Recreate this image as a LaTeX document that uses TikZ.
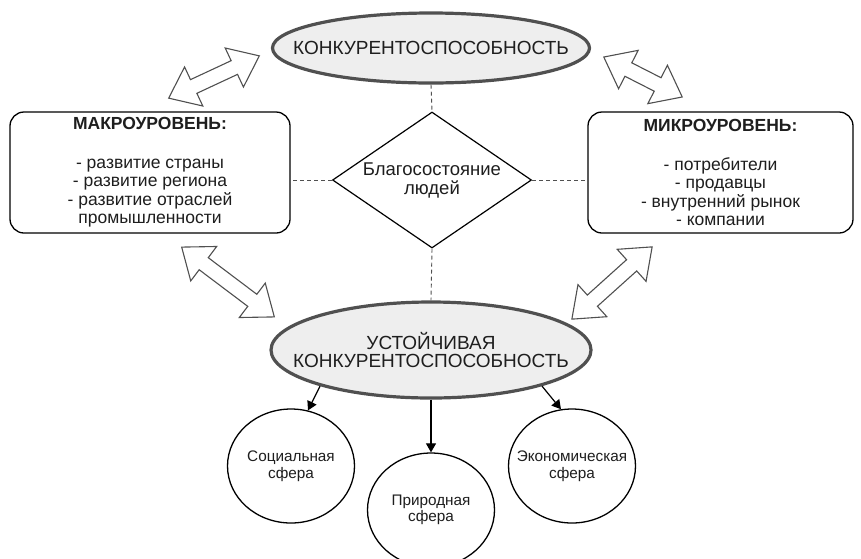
\documentclass[tikz,border=0pt]{standalone}
\usepackage{fontspec}
\setmainfont{Liberation Sans}
\usetikzlibrary{shapes.geometric,shapes.arrows,arrows.meta,positioning}
\definecolor{rimgray}{HTML}{505050}
\definecolor{fillgray}{HTML}{EEEEEE}
\definecolor{inkgray}{HTML}{1E1E1E}
\tikzset{
  oval/.style={ellipse, draw=rimgray, line width=3.2pt, fill=fillgray, text=inkgray, inner xsep=-30pt, inner ysep=0pt, align=center, font=\fontsize{19}{18.5}\selectfont},
  level/.style={draw, rounded corners=14pt, line width=1.3pt, minimum height=121pt, inner sep=0pt, text=inkgray, align=center, font=\fontsize{17.5}{18.5}\selectfont},
  rhomb/.style={diamond, draw, line width=1.2pt, aspect=1.46, minimum width=199pt, minimum height=136pt, inner sep=0pt, text=inkgray, align=center, font=\fontsize{18.5}{19}\selectfont},
  sphere/.style={ellipse, draw, line width=1.3pt, minimum width=127pt, minimum height=114pt, inner xsep=-15pt, inner ysep=0pt, text=inkgray, align=center, font=\fontsize{15.3}{16.5}\selectfont},
  swap/.style={double arrow, draw=rimgray, line width=1.1pt, fill=white, inner xsep=0pt, inner ysep=7pt, minimum width=0pt, double arrow head extend=14pt, double arrow tip angle=76},
  link/.style={dash pattern=on 4pt off 3pt, line width=0.9pt, draw=rimgray},
  arr/.style={-{Triangle[length=9pt,width=10pt]}, line width=1.2pt}
}
\begin{document}
\begin{tikzpicture}[x=1pt,y=-1pt]
    \path[use as bounding box, fill=white] (0,0) rectangle (861,558);

    \node[oval, minimum width=317pt, minimum height=70pt] (rivalry) at (431,48) {КОНКУРЕНТОСПОСОБНОСТЬ};
    \node[level, minimum width=280pt] (macro) at (150,172.5) {\textbf{МАКРОУРОВЕНЬ:}\\[20pt] - развитие страны\\ - развитие региона\\ - развитие отраслей\\ промышленности};
    \node[level, minimum width=265pt] (micro) at (720.5,172.5) {\textbf{МИКРОУРОВЕНЬ:}\\[20pt] - потребители\\ - продавцы\\ - внутренний рынок\\ - компании};
    \node[rhomb] (wellbeing) at (432,180) {Благосостояние\\людей};
    \node[oval, minimum width=320pt, minimum height=96pt] (sustain) at (431,350) {УСТОЙЧИВАЯ\\КОНКУРЕНТОСПОСОБНОСТЬ};

    \node[sphere] (social) at (291,466) {Социальная\\сфера};
    \node[sphere] (nature) at (431,510) {Природная\\сфера};
    \node[sphere] (economy) at (572,466) {Экономическая\\сфера};

    \node[swap, minimum height=100pt, rotate=25] (swapTL) at (214,77) {};
    \node[swap, minimum height=88pt, rotate=-27] (swapTR) at (643,77) {};
    \node[swap, minimum height=116pt, rotate=-37] (swapBL) at (228,282) {};
    \node[swap, minimum height=108pt, rotate=42] (swapBR) at (612,283) {};

    \draw[link] (rivalry.south) -- (wellbeing.north);
    \draw[link] (wellbeing.south) -- (sustain.north);
    \draw[link] (wellbeing.west) -- (macro.east |- wellbeing.west);
    \draw[link] (wellbeing.east) -- (micro.west |- wellbeing.east);

    \draw[arr] (sustain.198) -- (social.73);
    \draw[arr] (sustain.south) -- (nature.north);
    \draw[arr] (sustain.-18) -- (economy.101);
\end{tikzpicture}
\end{document}
